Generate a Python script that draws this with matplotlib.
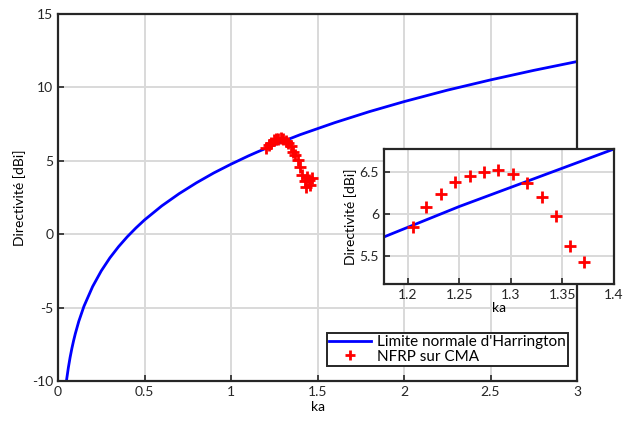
import matplotlib

matplotlib.use("Agg")
import matplotlib.pyplot as plt

plt.rcParams["font.family"] = ["Lato", "DejaVu Sans"]
plt.rcParams["axes.unicode_minus"] = False

# Limite normale d'Harrington
ka_lim = [0.045, 0.05, 0.06, 0.07, 0.08, 0.09, 0.1, 0.12, 0.15, 0.2, 0.25, 0.3, 0.35, 0.4,
          0.45, 0.5, 0.6, 0.7, 0.8, 0.9, 1.0, 1.1, 1.15, 1.2, 1.25, 1.3, 1.35, 1.4, 1.6,
          1.8, 2.0, 2.25, 2.5, 2.75, 3.0]
d_lim = [-10.36, -9.89, -9.08, -8.39, -7.79, -7.26, -6.78, -5.94, -4.91, -3.57, -2.50,
         -1.61, -0.85, -0.18, 0.42, 0.97, 1.93, 2.76, 3.50, 4.17, 4.77, 5.33, 5.59, 5.84,
         6.09, 6.32, 6.55, 6.78, 7.60, 8.35, 9.03, 9.81, 10.51, 11.16, 11.76]

# NFRP sur CMA
ka_nfrp = [1.205, 1.218, 1.232, 1.246, 1.260, 1.274, 1.288, 1.302, 1.316, 1.330, 1.344,
           1.357, 1.371, 1.385, 1.399, 1.413, 1.427, 1.441, 1.455, 1.469, 1.435, 1.450]
d_nfrp = [5.84, 6.08, 6.24, 6.39, 6.46, 6.51, 6.53, 6.48, 6.37, 6.21, 5.98,
          5.62, 5.42, 5.05, 4.55, 4.00, 3.60, 3.90, 3.35, 3.85, 3.20, 3.70]

W, H = 632, 423
fig = plt.figure(figsize=(W / 100, H / 100), dpi=100)


def style(ax):
    ax.grid(True, color="#d9d9d9", linewidth=1.4)
    ax.set_axisbelow(True)
    for s in ax.spines.values():
        s.set_linewidth(1.6)
        s.set_color("#262626")
    ax.tick_params(direction="in", length=4, width=1.2, labelsize=10, colors="#262626",
                   top=False, right=False)


ax = fig.add_axes([58 / W, 1 - 381 / H, (577 - 58) / W, (381 - 14) / H])
ax.plot(ka_lim, d_lim, color="#0000ff", linewidth=2, label="Limite normale d'Harrington")
ax.plot(ka_nfrp, d_nfrp, "+", color="#ff0000", markersize=9, markeredgewidth=2,
        label="NFRP sur CMA")
ax.set_xlim(0, 3)
ax.set_ylim(-10, 15)
ax.set_xticks([0, 0.5, 1, 1.5, 2, 2.5, 3])
ax.set_xticklabels(["0", "0.5", "1", "1.5", "2", "2.5", "3"])
ax.set_yticks([-10, -5, 0, 5, 10, 15])
ax.set_xlabel("ka", fontsize=10, labelpad=2)
ax.set_ylabel("Directivité [dBi]", fontsize=10)
style(ax)
leg = ax.legend(loc="lower right", fontsize=11, frameon=True, fancybox=False,
                edgecolor="#262626", framealpha=1, borderpad=0.15, handlelength=2.7,
                handletextpad=0.4, labelspacing=0.05, markerscale=0.8,
                bbox_to_anchor=(0.997, 0.02))
leg.get_frame().set_linewidth(1.4)

ins = fig.add_axes([384 / W, 1 - 284 / H, (614 - 384) / W, (284 - 149) / H])
ins.plot(ka_lim, d_lim, color="#0000ff", linewidth=2)
ins.plot(ka_nfrp, d_nfrp, "+", color="#ff0000", markersize=9, markeredgewidth=2)
ins.set_xlim(1.177, 1.4)
ins.set_ylim(5.16, 6.78)
ins.set_xticks([1.2, 1.25, 1.3, 1.35, 1.4])
ins.set_xticklabels(["1.2", "1.25", "1.3", "1.35", "1.4"])
ins.set_yticks([5.5, 6, 6.5])
ins.set_yticklabels(["5.5", "6", "6.5"])
ins.set_xlabel("ka", fontsize=10, labelpad=1)
ins.set_ylabel("Directivité [dBi]", fontsize=10, labelpad=2)
style(ins)

fig.savefig("out.png", dpi=100)
